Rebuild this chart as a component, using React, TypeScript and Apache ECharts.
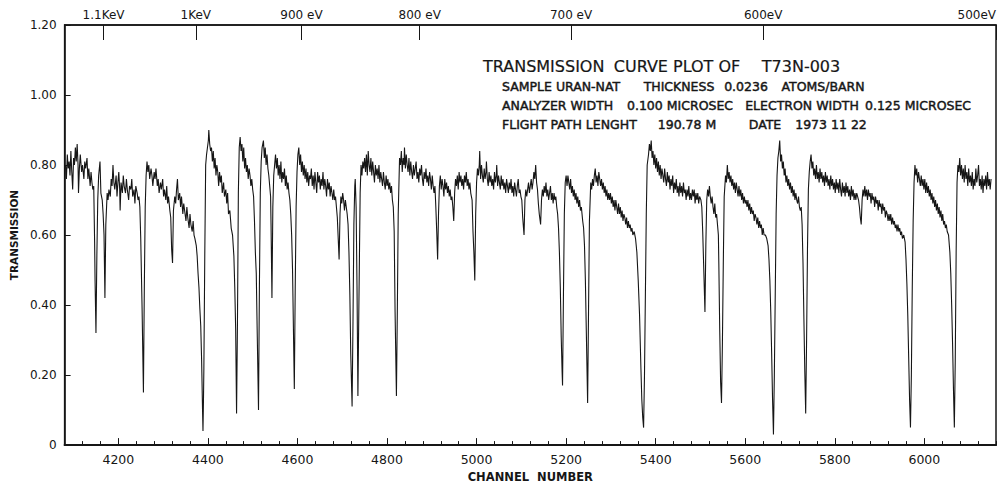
import React, { useEffect, useRef } from "react";
import * as echarts from "echarts";

// ---- axis ticks / labels ----
const CHANNEL_MIN = 4080;
const CHANNEL_MAX = 6160;
const CHANNEL_LABELS = [4200, 4400, 4600, 4800, 5000, 5200, 5400, 5600, 5800, 6000];
const ENERGY_CHANNELS = [4167, 4373, 4609, 4873, 5211, 5640, 6160];
const ENERGY_LABELS = ["1.1KeV", "1KeV", "900 eV", "800 eV", "700 eV", "600eV", "500eV"];
const Y_TICKS = [0, 0.2, 0.4, 0.6, 0.8, 1.0, 1.2];

// ---- transmission data [channel, transmission] ----
const SEG_A: [number, number][] = [
  [4082,.80],[4084,.76],[4086,.83],[4088,.79],[4090,.81],[4092,.77],[4094,.84],[4096,.78],[4098,.73],[4100,.82],
  [4102,.80],[4104,.85],[4106,.81],[4108,.86],[4110,.80],[4111,.72],[4113,.79],[4115,.83],[4118,.78],[4120,.80],
  [4123,.76],[4125,.81],[4127,.79],[4130,.82],[4132,.76],[4134,.79],[4137,.74],[4139,.78],[4141,.75],[4143,.73],
  [4145,.74],[4147,.58],[4148,.47],[4150,.32],[4152,.54],[4154,.70],[4156,.77],[4159,.81],[4161,.72],[4164,.70],
  [4166,.66],[4168,.60],[4170,.42],[4172,.63],[4175,.72],[4177,.70],[4179,.73],[4182,.71],[4184,.76],[4186,.74],
  [4188,.80],[4190,.75],[4192,.73],[4195,.77],[4197,.71],[4199,.75],[4201,.78],[4203,.73],[4204,.67],[4206,.75],
  [4209,.72],[4211,.77],[4213,.74],[4216,.72],[4218,.76],[4220,.73],[4223,.70],[4225,.74],[4228,.73],[4230,.76],
  [4232,.71],[4235,.73],[4237,.69],[4239,.74],[4242,.72],[4244,.70],[4246,.71],[4248,.68],[4250,.59],[4253,.39],
  [4256,.15],[4258,.45],[4260,.68],[4262,.77],[4264,.81],[4266,.78],[4268,.80],[4270,.76],[4273,.79],[4275,.77],
  [4277,.74],[4280,.78],[4282,.76],[4284,.79],[4287,.74],[4289,.76],[4291,.72],[4294,.75],[4296,.73],[4299,.76],
  [4301,.71],[4303,.73],[4306,.70],[4308,.74],[4310,.69],[4312,.71],[4315,.67],[4317,.65],[4319,.56],[4321,.52],
  [4323,.67],[4326,.71],[4328,.69],[4330,.73],[4332,.76],[4334,.70],[4337,.72],[4339,.68],[4341,.71],[4344,.66],
  [4346,.69],[4348,.67],[4351,.64],[4353,.68],[4355,.65],[4358,.62],[4360,.66],[4362,.63],[4365,.61],[4367,.64],
  [4369,.60],[4371,.59],[4374,.57],[4376,.54],[4378,.49],[4380,.45],[4382,.39],[4384,.34],[4386,.24],[4388,.10],
  [4389,.04],[4390,.12],[4391,.22],[4393,.54],[4395,.80],[4397,.83],[4399,.85],[4401,.87],[4402,.90],[4404,.86],
  [4406,.84],
];

const SEG_B: [number, number][] = [
  [4408,.85],[4410,.81],[4412,.84],[4414,.79],[4416,.82],[4418,.77],[4420,.80],[4422,.78],[4424,.74],[4426,.78],
  [4428,.75],[4430,.77],[4432,.72],[4435,.75],[4437,.71],[4440,.73],[4442,.69],[4444,.72],[4446,.66],[4449,.67],
  [4452,.62],[4455,.60],[4458,.54],[4460,.45],[4462,.33],[4464,.09],[4466,.35],[4468,.72],[4470,.85],[4472,.88],
  [4474,.84],[4476,.86],[4478,.81],[4480,.85],[4482,.79],[4484,.82],[4486,.78],[4488,.80],[4490,.76],[4492,.79],
  [4494,.77],[4496,.74],[4498,.76],[4500,.73],[4502,.71],[4504,.64],[4506,.55],[4508,.49],[4510,.33],[4513,.10],
  [4515,.45],[4517,.72],[4519,.81],[4521,.85],[4524,.87],[4526,.82],[4528,.85],[4530,.80],[4532,.83],[4534,.79],
  [4536,.77],[4538,.74],[4540,.71],[4541,.63],[4543,.42],[4545,.68],[4547,.77],[4549,.80],[4551,.83],[4553,.79],
  [4555,.82],[4557,.77],[4559,.80],[4561,.76],[4563,.81],[4565,.75],[4567,.78],[4569,.76],[4571,.79],[4573,.74],
  [4575,.77],[4577,.73],[4579,.75],[4581,.72],[4583,.70],[4585,.66],[4587,.60],[4589,.50],[4591,.33],[4593,.16],
  [4595,.45],[4597,.68],[4599,.78],[4601,.83],[4603,.85],[4605,.80],[4607,.83],[4609,.78],[4611,.81],[4613,.77],
  [4615,.80],[4617,.76],[4619,.79],[4621,.75],[4623,.78],[4625,.74],[4627,.77],[4629,.76],[4631,.79],[4633,.74],
  [4635,.77],[4637,.73],[4639,.78],[4641,.75],[4643,.72],[4645,.78],[4647,.75],[4649,.77],[4651,.73],[4653,.76],
  [4655,.74],[4657,.78],[4659,.73],[4661,.76],[4663,.74],[4665,.71],[4667,.76],[4669,.73],[4671,.75],[4673,.71],
  [4675,.74],[4677,.72],[4679,.70],[4681,.73],[4683,.70],[4685,.71],[4687,.68],[4689,.65],[4691,.59],[4693,.53],
  [4695,.66],[4697,.71],[4699,.69],[4701,.72],[4703,.70],[4705,.67],[4707,.70],[4709,.68],[4711,.66],[4713,.63],
  [4715,.55],[4717,.43],[4719,.26],[4722,.11],[4724,.35],[4726,.63],[4728,.74],[4729,.76],[4731,.68],[4733,.45],
  [4735,.14],[4737,.38],[4740,.72],[4742,.80],[4744,.77],[4746,.81],[4748,.79],[4750,.82],[4752,.78],[4754,.83],
  [4756,.77],[4758,.84],[4760,.80],[4762,.78],[4764,.82],[4766,.77],[4768,.81],[4770,.78],[4772,.75],[4774,.80],
  [4776,.77],[4778,.79],[4780,.76],[4782,.80],[4784,.75],[4786,.78],[4788,.76],[4790,.74],[4792,.78],[4794,.75],
  [4796,.73],[4798,.77],
];

const SEG_C: [number, number][] = [
  [4800,.74],[4802,.76],[4804,.73],[4806,.75],[4808,.72],[4810,.74],[4812,.70],[4814,.68],[4816,.61],[4818,.38],
  [4821,.14],[4823,.38],[4825,.66],[4828,.82],[4830,.80],[4832,.84],[4834,.78],[4836,.82],[4838,.80],[4839,.85],
  [4841,.79],[4843,.83],[4845,.80],[4847,.78],[4849,.82],[4851,.77],[4853,.81],[4855,.78],[4857,.76],[4859,.80],
  [4861,.77],[4863,.79],[4865,.81],[4867,.76],[4869,.78],[4871,.75],[4873,.79],[4875,.77],[4877,.80],[4879,.76],
  [4881,.74],[4883,.78],[4885,.76],[4887,.79],[4889,.75],[4891,.77],[4893,.74],[4895,.78],[4897,.76],[4899,.73],
  [4901,.77],[4903,.74],[4905,.72],[4907,.74],[4909,.68],[4911,.61],[4913,.53],[4915,.66],[4917,.74],[4919,.77],
  [4921,.73],[4923,.76],[4925,.74],[4927,.71],[4929,.76],[4931,.73],[4933,.75],[4935,.72],[4937,.74],[4939,.71],
  [4941,.73],[4943,.70],[4945,.71],[4947,.68],[4949,.64],[4951,.72],[4953,.76],[4955,.74],[4957,.77],[4959,.73],
  [4961,.78],[4963,.75],[4965,.77],[4967,.74],[4969,.76],[4971,.73],[4973,.77],[4975,.75],[4977,.78],[4979,.74],
  [4981,.76],[4983,.73],[4985,.75],[4987,.72],[4990,.70],[4992,.61],[4994,.55],[4996,.47],[4998,.66],[5000,.75],
  [5002,.79],[5004,.77],[5006,.80],[5007,.84],[5009,.76],[5011,.80],[5013,.77],[5015,.75],[5017,.79],[5019,.76],
  [5021,.78],[5022,.81],[5024,.76],[5026,.74],[5028,.78],[5030,.75],[5032,.77],[5034,.74],[5036,.76],[5038,.73],
  [5040,.78],[5042,.75],[5044,.77],[5045,.80],[5047,.74],[5049,.77],[5051,.75],[5053,.73],[5055,.77],[5057,.74],
  [5059,.76],[5061,.73],[5063,.75],[5065,.72],[5067,.76],[5069,.74],[5071,.72],[5073,.75],[5075,.73],[5077,.76],
  [5079,.72],[5081,.74],[5083,.71],[5085,.75],[5087,.73],[5089,.71],[5091,.74],[5093,.76],[5095,.72],[5097,.73],
  [5099,.71],[5101,.70],[5103,.65],[5106,.60],[5108,.70],[5110,.73],[5112,.71],[5114,.73],[5116,.75],[5118,.72],
  [5120,.74],[5122,.76],[5124,.73],[5126,.75],[5128,.78],[5130,.76],[5132,.80],[5134,.75],[5136,.73],[5138,.69],
  [5140,.66],[5143,.63],[5145,.70],[5147,.73],[5149,.71],[5151,.74],[5153,.72],[5155,.75],[5157,.71],[5159,.73],
  [5161,.70],[5163,.72],[5165,.74],[5167,.70],[5169,.72],[5171,.69],[5173,.72],[5175,.70],[5177,.71],[5179,.68],
  [5181,.66],[5183,.62],[5185,.55],[5187,.45],[5189,.31],[5191,.21],[5192,.17],[5194,.43],[5196,.66],[5198,.75],
];

const SEG_D: [number, number][] = [
  [5200,.77],[5202,.74],[5204,.77],[5206,.75],[5208,.73],[5210,.76],[5212,.72],[5214,.74],[5216,.71],[5218,.73],
  [5220,.70],[5222,.72],[5224,.69],[5226,.71],[5228,.68],[5230,.70],[5232,.67],[5234,.68],[5237,.64],[5239,.62],
  [5241,.57],[5243,.47],[5245,.33],[5247,.19],[5248,.12],[5250,.38],[5252,.64],[5255,.75],[5257,.73],[5259,.76],
  [5261,.74],[5263,.77],[5265,.79],[5267,.75],[5269,.77],[5271,.74],[5273,.78],[5275,.76],[5277,.74],[5279,.76],
  [5281,.73],[5283,.75],[5285,.72],[5287,.74],[5289,.71],[5291,.73],[5293,.70],[5295,.72],[5297,.70],[5299,.72],
  [5301,.69],[5303,.71],[5305,.68],[5307,.70],[5309,.67],[5311,.70],[5313,.68],[5315,.66],[5317,.69],[5319,.66],
  [5321,.68],[5323,.65],[5325,.67],[5327,.64],[5329,.66],[5331,.65],[5333,.63],[5335,.65],[5337,.62],[5339,.64],
  [5341,.62],[5343,.63],[5345,.61],[5347,.62],[5349,.60],[5352,.61],[5355,.59],[5358,.55],[5361,.47],[5364,.37],
  [5367,.22],[5369,.13],[5371,.08],[5373,.05],[5375,.20],[5377,.43],[5379,.66],[5381,.80],[5384,.83],[5386,.86],
  [5388,.84],[5390,.87],[5392,.82],[5394,.84],[5396,.80],[5398,.83],[5400,.79],[5402,.82],[5404,.78],[5406,.81],
  [5408,.77],[5410,.80],[5412,.76],[5414,.79],[5416,.77],[5418,.75],[5420,.79],[5422,.76],[5424,.74],[5426,.78],
  [5428,.75],[5430,.77],[5432,.73],[5434,.76],[5436,.74],[5438,.77],[5440,.72],[5442,.75],[5444,.73],[5446,.76],
  [5448,.72],[5450,.74],[5452,.71],[5454,.75],[5456,.72],[5458,.74],[5460,.71],[5462,.75],[5464,.72],[5466,.73],
  [5468,.70],[5470,.73],[5472,.71],[5474,.74],[5476,.70],[5478,.72],[5480,.70],[5482,.73],[5484,.71],[5486,.73],
  [5488,.69],[5490,.72],[5492,.70],[5494,.72],[5496,.69],[5498,.71],[5501,.70],[5503,.68],[5505,.61],[5507,.52],
  [5510,.38],[5512,.57],[5514,.70],[5516,.73],[5518,.71],[5520,.74],[5522,.71],[5524,.69],[5526,.71],[5528,.68],
  [5530,.66],[5532,.69],[5534,.65],[5536,.66],[5538,.63],[5540,.60],[5541,.52],[5543,.33],[5545,.18],[5547,.12],
  [5549,.29],[5551,.52],[5553,.71],[5556,.77],[5558,.75],[5560,.80],[5562,.76],[5564,.78],[5566,.75],[5568,.77],
  [5570,.74],[5572,.76],[5574,.73],[5576,.75],[5578,.72],[5580,.75],[5582,.73],[5584,.71],[5586,.74],[5588,.71],
  [5590,.73],[5592,.70],[5594,.72],[5596,.69],[5598,.71],[5600,.69],
];

const SEG_E: [number, number][] = [
  [5602,.70],[5604,.68],[5606,.70],[5608,.67],[5610,.69],[5612,.66],[5614,.68],[5616,.66],[5618,.67],[5620,.64],
  [5622,.66],[5624,.65],[5626,.63],[5628,.65],[5630,.62],[5632,.64],[5634,.62],[5636,.63],[5638,.60],[5640,.62],
  [5642,.60],[5645,.60],[5648,.59],[5651,.57],[5653,.53],[5655,.47],[5657,.38],[5659,.26],[5661,.13],[5663,.03],
  [5665,.20],[5667,.43],[5669,.66],[5671,.77],[5673,.82],[5675,.84],[5677,.87],[5679,.81],[5681,.83],[5683,.79],
  [5685,.81],[5687,.77],[5689,.79],[5691,.75],[5693,.77],[5695,.74],[5697,.76],[5699,.73],[5701,.75],[5703,.72],
  [5705,.74],[5707,.71],[5709,.73],[5711,.70],[5713,.72],[5715,.70],[5717,.69],[5719,.71],[5721,.68],[5723,.67],
  [5725,.68],[5727,.63],[5729,.52],[5731,.36],[5733,.21],[5735,.09],[5737,.30],[5739,.56],[5741,.73],[5743,.78],
  [5745,.81],[5747,.83],[5749,.79],[5751,.81],[5753,.77],[5755,.79],[5757,.76],[5759,.80],[5761,.76],[5763,.78],
  [5765,.75],[5767,.79],[5769,.76],[5771,.78],[5773,.75],[5775,.77],[5777,.74],[5779,.78],[5781,.75],[5783,.77],
  [5785,.74],[5787,.76],[5789,.73],[5791,.77],[5793,.74],[5795,.76],[5797,.73],[5799,.75],[5801,.72],[5803,.76],
  [5805,.73],[5807,.75],[5809,.72],[5811,.76],[5813,.73],[5815,.71],[5817,.75],[5819,.72],[5821,.74],[5823,.71],
  [5825,.75],[5827,.72],[5829,.74],[5831,.71],[5833,.73],[5835,.70],[5837,.74],[5839,.71],[5841,.73],[5843,.70],
  [5845,.72],[5847,.70],[5849,.72],[5851,.71],[5853,.70],[5855,.68],[5857,.65],[5859,.63],[5861,.70],[5863,.73],
  [5865,.71],[5867,.74],[5869,.71],[5871,.73],[5873,.70],[5875,.73],[5877,.71],[5879,.72],[5881,.69],[5883,.72],
  [5885,.70],[5887,.71],[5889,.68],[5891,.71],[5893,.69],[5895,.70],[5897,.67],[5899,.70],[5901,.68],[5903,.69],
  [5905,.66],[5907,.69],[5909,.67],[5911,.68],[5913,.65],[5915,.67],[5917,.66],[5919,.64],[5921,.66],[5923,.64],
  [5925,.66],[5927,.63],[5929,.65],[5931,.63],[5933,.64],[5935,.62],[5937,.63],[5939,.61],[5941,.63],[5943,.61],
  [5945,.62],[5947,.60],[5949,.61],[5951,.59],[5954,.60],[5957,.58],[5959,.53],[5961,.46],[5963,.37],[5965,.25],
  [5967,.13],[5969,.05],[5971,.20],[5973,.45],[5975,.64],[5977,.75],[5979,.80],[5981,.77],[5983,.79],[5985,.75],
  [5987,.78],[5989,.76],[5991,.74],[5993,.77],[5995,.74],[5997,.76],[5999,.73],
];

const SEG_F: [number, number][] = [
  [6001,.76],[6003,.72],[6005,.75],[6007,.72],[6009,.74],[6011,.71],[6013,.73],[6015,.70],[6017,.72],[6019,.69],
  [6021,.71],[6023,.68],[6025,.70],[6027,.67],[6029,.69],[6031,.66],[6033,.68],[6035,.65],[6037,.67],[6039,.64],
  [6041,.66],[6043,.63],[6045,.64],[6047,.62],[6049,.63],[6051,.61],[6054,.60],[6057,.55],[6059,.49],[6061,.40],
  [6063,.29],[6065,.16],[6067,.05],[6069,.24],[6071,.55],[6073,.75],[6075,.80],[6077,.78],[6079,.82],[6081,.77],
  [6083,.80],[6085,.76],[6087,.79],[6089,.75],[6091,.80],[6093,.76],[6095,.78],[6097,.74],[6099,.79],[6101,.75],
  [6103,.77],[6105,.74],[6107,.78],[6109,.73],[6111,.76],[6113,.74],[6115,.79],[6117,.75],[6119,.77],[6121,.80],
  [6123,.74],[6125,.76],[6127,.73],[6129,.77],[6131,.72],[6133,.76],[6135,.74],[6137,.77],[6139,.73],[6141,.78],
  [6143,.74],[6145,.76],[6147,.73],[6149,.76],
];

// ---- header text (phrase, anchor x, alignment) ----
type Part = [string, number, "left" | "center"];
const TITLE_PARTS: Part[] = [["TRANSMISSION", 483, "left"], ["CURVE PLOT OF", 677, "center"], ["T73N-003", 801, "center"]];
const LINE2_PARTS: Part[] = [["SAMPLE URAN-NAT", 502, "left"], ["THICKNESS", 679, "center"], ["0.0236", 746, "center"], ["ATOMS/BARN", 823, "center"]];
const LINE3_PARTS: Part[] = [["ANALYZER WIDTH", 502, "left"], ["0.100 MICROSEC", 680, "center"], ["ELECTRON WIDTH", 802, "center"], ["0.125 MICROSEC", 918, "center"]];
const LINE4_PARTS: Part[] = [["FLIGHT PATH LENGHT", 502, "left"], ["190.78 M", 687, "center"], ["DATE", 765, "center"], ["1973 11 22", 831, "center"]];

const FONT = "'DejaVu Sans', 'Liberation Sans', sans-serif";
const INK = "#161616";

export default function App() {
  const ref = useRef<HTMLDivElement>(null);
  useEffect(() => {
    if (!ref.current) return;
    const chart = echarts.init(ref.current, null, { renderer: "svg" });
    const data = [...SEG_A, ...SEG_B, ...SEG_C, ...SEG_D, ...SEG_E, ...SEG_F];
    const textLine = (parts: Part[], y: number, size: number, stroke: number) =>
      parts.map(([t, x, align]) => ({
        type: "text",
        x,
        y,
        style: {
          text: t,
          fill: INK,
          stroke: INK,
          lineWidth: stroke,
          font: `normal ${size}px ${FONT}`,
          textAlign: align,
          textVerticalAlign: "middle",
        },
      }));
    const option: any = {
      animation: false,
      backgroundColor: "#ffffff",
      grid: { left: 60, right: 11, top: 25, bottom: 30, show: true, borderColor: INK, borderWidth: 1.5 },
      xAxis: [
        {
          type: "value",
          min: CHANNEL_MIN,
          max: CHANNEL_MAX,
          interval: 40,
          position: "bottom",
          axisLine: { show: true, lineStyle: { color: INK, width: 2 } },
          axisTick: { show: true, inside: true, length: 4, lineStyle: { color: INK } },
          axisLabel: {
            formatter: (v: number) => (CHANNEL_LABELS.includes(v) ? String(v) : ""),
            color: INK,
            fontSize: 12.5,
            fontFamily: FONT,
            margin: 8,
          },
          splitLine: { show: false },
          name: "CHANNEL  NUMBER",
          nameLocation: "middle",
          nameGap: 22,
          nameTextStyle: { color: INK, fontSize: 11.5, fontFamily: FONT, fontWeight: "bold" },
        },
        {
          type: "value",
          min: CHANNEL_MIN,
          max: CHANNEL_MAX,
          position: "bottom",
          axisLine: { show: false },
          axisTick: { show: true, inside: true, length: 7, customValues: CHANNEL_LABELS, lineStyle: { color: INK } },
          axisLabel: { show: false },
          splitLine: { show: false },
        },
        {
          type: "value",
          min: CHANNEL_MIN,
          max: CHANNEL_MAX,
          position: "top",
          axisLine: { show: true, lineStyle: { color: INK, width: 1.5 } },
          axisTick: { show: true, inside: true, length: 15, customValues: ENERGY_CHANNELS, lineStyle: { color: INK } },
          axisLabel: {
            customValues: ENERGY_CHANNELS,
            formatter: (v: number) => {
              const i = ENERGY_CHANNELS.indexOf(v);
              return i >= 0 ? ENERGY_LABELS[i] : "";
            },
            alignMaxLabel: "right",
            color: INK,
            fontSize: 12,
            fontFamily: FONT,
            margin: 4,
          },
          splitLine: { show: false },
        },
      ],
      yAxis: {
        type: "value",
        min: 0,
        max: 1.2,
        interval: 0.2,
        axisLine: { show: true, lineStyle: { color: INK, width: 1.5 } },
        axisTick: { show: true, inside: true, length: 6, lineStyle: { color: INK } },
        axisLabel: {
          formatter: (v: number) => {
            const t = Y_TICKS.find((k) => Math.abs(k - v) < 1e-6);
            return t === 0 ? "0" : (t ?? v).toFixed(2);
          },
          color: INK,
          fontSize: 12,
          fontFamily: FONT,
          margin: 8,
        },
        splitLine: { show: false },
        name: "TRANSMISSION",
        nameLocation: "middle",
        nameRotate: 90,
        nameGap: 43,
        nameTextStyle: { color: INK, fontSize: 10.5, fontFamily: FONT, fontWeight: "bold" },
      },
      series: [
        {
          type: "line",
          xAxisIndex: 0,
          data,
          showSymbol: false,
          symbol: "none",
          silent: true,
          lineStyle: { color: INK, width: 1.1 },
        },
      ],
      graphic: [
        ...textLine(TITLE_PARTS, 66, 16, 0.2),
        ...textLine(LINE2_PARTS, 86, 12.5, 0.45),
        ...textLine(LINE3_PARTS, 105, 12.5, 0.45),
        ...textLine(LINE4_PARTS, 124, 12.5, 0.45),
      ],
    };
    chart.setOption(option);
    return () => chart.dispose();
  }, []);
  return (
    <div
      ref={ref}
      style={{ position: "absolute", left: 0, top: 0, width: 1007, height: 488, background: "#fff" }}
    />
  );
}
